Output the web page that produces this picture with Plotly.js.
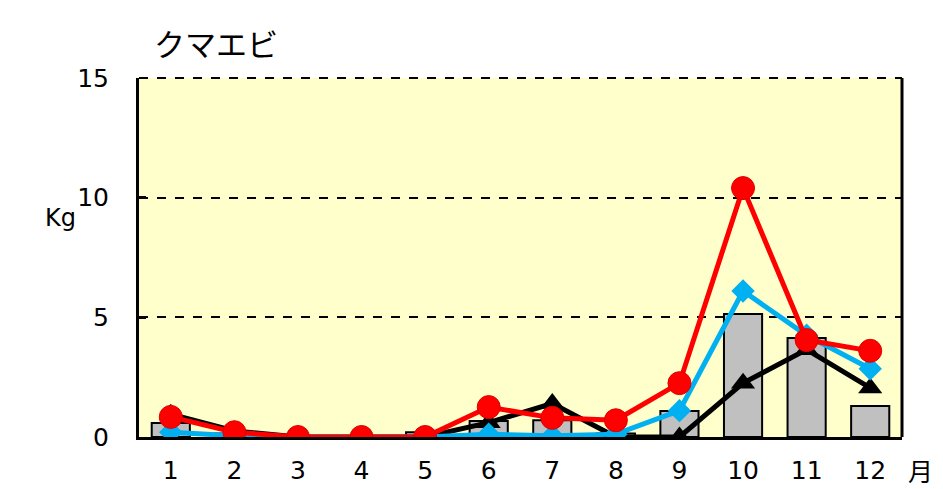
<!DOCTYPE html>
<html>
<head>
<meta charset="utf-8">
<script src="https://cdn.plot.ly/plotly-3.0.1.min.js"></script>
<style>html,body{margin:0;padding:0;background:#fff;}#chart{width:943px;height:489px;}</style>
</head>
<body>
<div id="chart"></div>
<script>
const months = [1,2,3,4,5,6,7,8,9,10,11,12];
const monthLabels = ["1","2","3","4","5","6","7","8","9","10","11","12"];
const barValues = [0.58,0.15,0,0,0.2,0.67,0.7,0.15,1.09,5.14,4.14,1.3];
const blackValues = [0.95,0.25,0,0,0,0.6,1.4,0,0,2.25,3.65,2.05];
const cyanValues = [0.2,0.05,0,0,0,0.12,0.05,0.12,1.1,6.1,4.25,2.85];
const redValues = [0.84,0.2,0,0,0,1.25,0.8,0.7,2.25,10.4,4.05,3.6];
const yTicks = [0,5,10,15];

const font = "Verdana, DejaVu Sans, sans-serif";
const traces = [
  {type:"bar", x:months, y:barValues, width:0.6,
   marker:{color:"#C0C0C0", line:{color:"#000", width:2}}, hoverinfo:"skip"},
  {type:"scatter", mode:"lines+markers", x:months, y:blackValues,
   line:{color:"#000", width:5}, marker:{symbol:"triangle-up", size:21, color:"#000"}},
  {type:"scatter", mode:"lines+markers", x:months, y:cyanValues,
   line:{color:"#00B0F0", width:5}, marker:{symbol:"diamond", size:18, color:"#00B0F0"}},
  {type:"scatter", mode:"lines+markers", x:months, y:redValues,
   line:{color:"#FF0000", width:5}, marker:{symbol:"circle", size:23, color:"#FF0000", line:{color:"#E00000", width:1}}}
];

const layout = {
  width:943, height:489,
  margin:{l:139, r:41, t:78, b:52},
  paper_bgcolor:"#fff", plot_bgcolor:"#FFFFCC",
  showlegend:false,
  bargap:0,
  font:{family:font, size:25, color:"#000"},
  xaxis:{range:[0.5,12.5], tickvals:months, ticktext:monthLabels, showgrid:false,
         zeroline:false, showline:true, linecolor:"#000", linewidth:3, ticks:"",
         ticklabelstandoff:9,
         tickfont:{family:font, size:25}, fixedrange:true},
  yaxis:{range:[0,15], tickvals:yTicks, showgrid:true, gridcolor:"#000", griddash:"dash",
         gridwidth:2, zeroline:false, showline:true, linecolor:"#000", linewidth:3,
         ticks:"inside", ticklen:7, tickwidth:3, tickcolor:"#000", ticklabelstandoff:22,
         tickfont:{family:font, size:25}},
  shapes:[
    {type:"line", xref:"paper", yref:"paper", x0:1, x1:1, y0:0, y1:1, line:{color:"#000", width:3}},
    {type:"line", xref:"paper", yref:"paper", x0:0, x1:1, y0:1, y1:1, line:{color:"#000", width:2, dash:"dash"}}
  ],
  annotations:[
    {text:"クマエビ", xref:"paper", yref:"paper", x:0.017, y:1.0, yshift:36, xanchor:"left", yanchor:"middle",
     showarrow:false, font:{family:"Noto Sans CJK JP, sans-serif", size:31, color:"#000"}},
    {text:"Kg", xref:"paper", yref:"paper", x:-0.103, y:0.61, xanchor:"center", yanchor:"middle",
     showarrow:false, font:{family:font, size:24, color:"#000"}},
    {text:"月", xref:"paper", yref:"paper", x:1.005, y:0, yshift:-33, xanchor:"left", yanchor:"middle",
     showarrow:false, font:{family:"Noto Sans CJK JP, sans-serif", size:25, color:"#000"}}
  ]
};
Plotly.newPlot("chart", traces, layout, {displayModeBar:false, staticPlot:true});
</script>
</body>
</html>
